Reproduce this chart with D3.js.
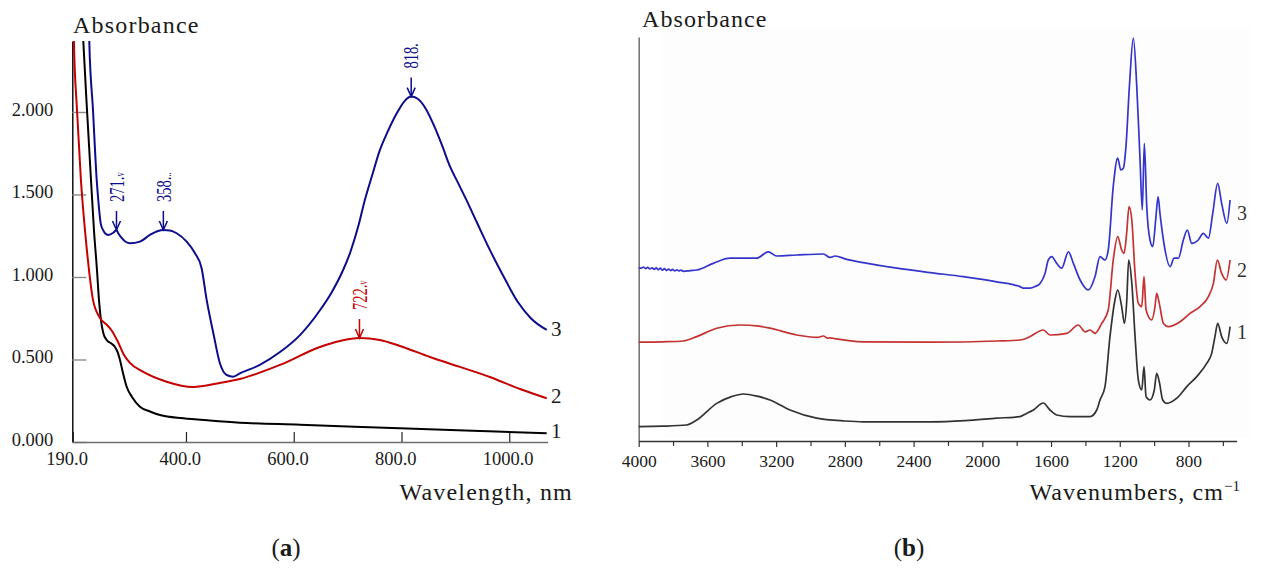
<!DOCTYPE html>
<html>
<head>
<meta charset="utf-8">
<script src="https://cdn.jsdelivr.net/npm/d3@7"></script>
<style>
  html, body { margin: 0; padding: 0; background: #fff; }
  svg { display: block; }
  text { font-family: "Liberation Serif", "Times New Roman", serif; fill: #1a1a1a; }
</style>
</head>
<body>
<svg id="fig" width="1264" height="574"></svg>
<script>
// ---------------- Panel (a): UV-Vis spectra, [wavelength nm, absorbance] ----------------
const uvSpectrum1 = [
  [206, 2.68], [209.4, 2.43], [216.3, 2.012], [223.7, 1.588], [229.2, 1.285], [234.8, 1.042],
  [238.5, 0.861], [242.2, 0.739], [246.5, 0.661], [252.8, 0.618], [262.7, 0.594], [268.2, 0.576],
  [273.8, 0.539], [277.5, 0.497], [283.1, 0.418], [289.9, 0.335], [299.8, 0.273], [314.6, 0.214],
  [333.2, 0.185], [351.7, 0.164], [395, 0.144], [444.5, 0.130], [500, 0.117], [611.6, 0.105],
  [797, 0.083], [945.7, 0.067], [1069.5, 0.053]
];
const uvSpectrum2 = [
  [191, 2.68], [192, 2.43], [197.7, 2.012], [205, 1.588], [212.5, 1.285], [220, 1.042],
  [227.4, 0.861], [240.4, 0.752], [253.4, 0.709], [262.7, 0.673], [273.8, 0.606], [285, 0.527],
  [296, 0.479], [320, 0.426], [364, 0.365], [413, 0.333], [463, 0.358], [500, 0.382],
  [574.5, 0.467], [648.7, 0.576], [685.8, 0.612], [722, 0.630], [760, 0.618], [797, 0.582],
  [853, 0.515], [908.5, 0.455], [964, 0.394], [1020, 0.321], [1069.5, 0.265]
];
const uvSpectrum3 = [
  [219, 2.68], [220.5, 2.43], [227.4, 2.012], [234.3, 1.588], [237.2, 1.467], [241.7, 1.325],
  [246, 1.285], [249.7, 1.265], [255.8, 1.255], [265, 1.268], [271, 1.285], [274, 1.267],
  [281, 1.236], [288.6, 1.212], [296, 1.204], [314.6, 1.214], [333, 1.255], [348, 1.279],
  [358, 1.285], [370, 1.282], [382.7, 1.265], [401.3, 1.214], [416.7, 1.144], [429, 1.053],
  [438.4, 0.861], [450.7, 0.661], [463, 0.477], [475.5, 0.406], [487.8, 0.396], [500, 0.416],
  [537, 0.467], [574.5, 0.545], [611.6, 0.648], [649, 0.80], [670, 0.905], [690, 1.03],
  [705, 1.15], [720, 1.31], [732, 1.467], [745, 1.61], [760, 1.77], [775, 1.885],
  [791, 1.99], [805, 2.063], [818, 2.093], [830, 2.080], [845, 2.02], [860, 1.92],
  [875, 1.80], [890, 1.67], [905, 1.57], [920, 1.47], [940, 1.33], [964, 1.164],
  [990, 1.0], [1016, 0.848], [1040, 0.75], [1069.5, 0.679]
];
const uvSeriesNames = ["1", "2", "3"];
const uvPeaks = [
  { series: 3, nm: 271, A: 1.285, label: "271.", tail: "v" },
  { series: 3, nm: 358, A: 1.285, label: "358.", tail: ".." },
  { series: 3, nm: 818, A: 2.093, label: "818.", tail: "" },
  { series: 2, nm: 722, A: 0.630, label: "722.", tail: "v" }
];
const uvXTicks = [190, 400, 600, 800, 1000];
const uvYTicks = [0, 0.5, 1.0, 1.5, 2.0];

// ---------------- Panel (b): FTIR spectra, [wavenumber cm-1, absorbance (offset, a.u.)] ----------------
const irSpectrum1 = [
  [4000, 0.036], [3860, 0.037], [3721, 0.040], [3662, 0.0525], [3546, 0.094], [3460, 0.111],
  [3391, 0.1175], [3310, 0.112], [3236, 0.1025], [3119, 0.0775], [2964, 0.057], [2800, 0.050],
  [2693, 0.048], [2304, 0.048], [2100, 0.051], [1916, 0.057], [1781, 0.061], [1742, 0.069],
  [1703, 0.0775], [1645, 0.095], [1606, 0.0775], [1567, 0.065], [1490, 0.061], [1373, 0.061],
  [1334, 0.0775], [1315, 0.1025], [1286, 0.136], [1257, 0.261], [1228, 0.3525], [1212, 0.3775],
  [1189, 0.336], [1173, 0.294], [1160, 0.345], [1148, 0.4525], [1130, 0.395], [1111, 0.261],
  [1092, 0.1525], [1072, 0.1275], [1059, 0.186], [1047, 0.111], [1024, 0.1025], [999, 0.1275],
  [985, 0.169], [970, 0.148], [950, 0.1025], [927, 0.094], [868, 0.107], [810, 0.136],
  [752, 0.161], [694, 0.194], [665, 0.219], [646, 0.261], [630, 0.294], [607, 0.261],
  [577, 0.244], [558, 0.286]
];
const irSpectrum2 = [
  [4000, 0.247], [3860, 0.248], [3740, 0.25], [3662, 0.261], [3546, 0.282], [3410, 0.29],
  [3300, 0.287], [3236, 0.282], [3080, 0.265], [2960, 0.259], [2925, 0.2625], [2900, 0.257],
  [2886, 0.258], [2860, 0.256], [2693, 0.248], [2304, 0.247], [1916, 0.25], [1781, 0.2525],
  [1742, 0.257], [1722, 0.261], [1645, 0.2775], [1606, 0.265], [1509, 0.269], [1441, 0.29],
  [1402, 0.273], [1373, 0.2775], [1344, 0.269], [1305, 0.294], [1267, 0.3275], [1238, 0.4525],
  [1212, 0.511], [1189, 0.4775], [1175, 0.469], [1160, 0.519], [1146, 0.586], [1130, 0.5525],
  [1111, 0.419], [1092, 0.344], [1072, 0.336], [1059, 0.411], [1047, 0.3275], [1014, 0.3025],
  [995, 0.336], [985, 0.369], [970, 0.344], [946, 0.294], [917, 0.286], [849, 0.298],
  [791, 0.319], [733, 0.336], [684, 0.361], [655, 0.394], [632, 0.4525], [607, 0.419],
  [581, 0.4025], [558, 0.4525]
];
const irSpectrum3 = [
  [4000, 0.434], [3985, 0.432], [3972, 0.435], [3960, 0.431], [3948, 0.434], [3935, 0.430],
  [3922, 0.433], [3910, 0.429], [3898, 0.433], [3886, 0.428], [3874, 0.432], [3862, 0.427],
  [3850, 0.431], [3838, 0.426], [3826, 0.430], [3814, 0.426], [3802, 0.429], [3790, 0.425],
  [3778, 0.428], [3766, 0.425], [3754, 0.427], [3740, 0.424], [3700, 0.426], [3662, 0.4275],
  [3566, 0.444], [3469, 0.457], [3313, 0.457],
  [3246, 0.473], [3197, 0.4625], [3080, 0.465], [2925, 0.4675], [2886, 0.459], [2857, 0.4625],
  [2789, 0.454], [2693, 0.446], [2498, 0.432], [2304, 0.421], [2111, 0.411], [1916, 0.398],
  [1781, 0.386], [1761, 0.382], [1722, 0.382], [1693, 0.386], [1664, 0.394], [1635, 0.419],
  [1616, 0.4525], [1596, 0.461], [1567, 0.444], [1538, 0.432], [1499, 0.473], [1470, 0.444],
  [1431, 0.4025], [1383, 0.3775], [1344, 0.411], [1315, 0.461], [1286, 0.4525], [1267, 0.4775],
  [1238, 0.636], [1212, 0.707], [1194, 0.6775], [1179, 0.682], [1164, 0.736], [1144, 0.886],
  [1121, 1.007], [1101, 0.886], [1082, 0.7025], [1069, 0.5775], [1057, 0.744], [1043, 0.586],
  [1024, 0.5025], [1008, 0.486], [991, 0.5525], [977, 0.611], [966, 0.569], [946, 0.5025],
  [907, 0.436], [884, 0.457], [859, 0.457], [830, 0.5025], [807, 0.5275], [781, 0.494],
  [743, 0.5025], [714, 0.519], [684, 0.507], [659, 0.569], [630, 0.644], [607, 0.594],
  [577, 0.544], [558, 0.6025]
];
const irSeriesNames = ["1", "2", "3"];
const irMajorTicks = [4000, 3600, 3200, 2800, 2400, 2000, 1600, 1200, 800];
const irMinorTicks = [3800, 3400, 3000, 2600, 2200, 1800, 1400, 1000, 600];

// ---------------- drawing ----------------
const svg = d3.select("#fig");
const defs = svg.append("defs");
const serif = "'Liberation Serif', 'Times New Roman', serif";

// ===== panel (a) =====
const uvColors = ["#000000", "#c40000", "#0c0c8c"];
const xUV = d3.scaleLinear().domain([189, 1071]).range([72.3, 547.5]);
const yUV = d3.scaleLinear().domain([0, 2.43]).range([442, 41]);

defs.append("clipPath").attr("id", "clipA")
  .append("rect").attr("x", xUV(189)).attr("y", yUV(2.43))
  .attr("width", xUV(1071) - xUV(189) + 2).attr("height", yUV(0) - yUV(2.43));

const gA = svg.append("g");

// y axis with inward gray ticks
const gyA = gA.append("g").attr("transform", `translate(${xUV(189)},0)`)
  .call(d3.axisLeft(yUV).tickValues(uvYTicks).tickSizeInner(-14).tickSizeOuter(0)
    .tickPadding(19).tickFormat(d3.format(".3f")));
gyA.attr("font-family", serif).attr("font-size", 18.5);
gyA.select(".domain").attr("stroke", "#000").attr("stroke-width", 1.4);
gyA.selectAll(".tick line").attr("stroke", "#8a8a8a").attr("stroke-width", 1.4);
gyA.selectAll(".tick text").attr("fill", "#1a1a1a").attr("dy", "0.18em");

// x axis with inward ticks, labels set to the left of each tick
const gxA = gA.append("g").attr("transform", `translate(0,${yUV(0)})`)
  .call(d3.axisBottom(xUV).tickValues(uvXTicks).tickSizeInner(-10).tickSizeOuter(0)
    .tickFormat(d3.format(".1f")));
gxA.attr("font-family", serif).attr("font-size", 18.5);
gxA.select(".domain").attr("stroke", "#6e6e6e").attr("stroke-width", 1.4);
gxA.selectAll(".tick line").attr("stroke", "#222").attr("stroke-width", 1.2);
gxA.selectAll(".tick text").attr("fill", "#1a1a1a").attr("text-anchor", "start")
  .attr("x", -27).attr("y", 23).attr("dy", 0);

// spectra
const lineUV = d3.line().x(d => xUV(d[0])).y(d => yUV(d[1])).curve(d3.curveMonotoneX);
const uvAll = [uvSpectrum1, uvSpectrum2, uvSpectrum3];
gA.append("g").attr("clip-path", "url(#clipA)")
  .selectAll("path").data(uvAll).join("path")
  .attr("d", lineUV).attr("fill", "none")
  .attr("stroke", (d, i) => uvColors[i]).attr("stroke-width", 2)
  .attr("stroke-linejoin", "round");

// series numbers at right end
const uvLabelDy = [-3, -3, -1];
gA.selectAll("text.series").data(uvAll).join("text").attr("class", "series")
  .attr("x", 551).attr("y", (d, i) => yUV(d[d.length - 1][1]) + uvLabelDy[i])
  .attr("dy", "0.35em").attr("font-size", 21).text((d, i) => uvSeriesNames[i]);

// peak markers: arrow + rotated wavelength
uvPeaks.forEach(p => {
  const px = xUV(p.nm), py = yUV(p.A), c = uvColors[p.series - 1];
  gA.append("line").attr("x1", px).attr("x2", px).attr("y1", py - 19).attr("y2", py - 1)
    .attr("stroke", c).attr("stroke-width", 1.5);
  gA.append("path").attr("d", `M${px - 4},${py - 9}L${px},${py}L${px + 4},${py - 9}`)
    .attr("fill", "none").attr("stroke", c).attr("stroke-width", 1.5);
  const t = gA.append("text")
    .attr("transform", `translate(${px},${py - 28}) rotate(-90) scale(1,1.5)`)
    .attr("dy", "0.33em").attr("font-size", 14.5).style("fill", c).text(p.label);
  if (p.tail) t.append("tspan").attr("font-size", 8.5).style("fill", c).text(p.tail);
});

// axis titles
gA.append("text").attr("x", 73).attr("y", 33).attr("font-size", 24)
  .attr("letter-spacing", 1.2).text("Absorbance");
gA.append("text").attr("x", 573).attr("y", 500).attr("text-anchor", "end")
  .attr("font-size", 24).attr("letter-spacing", 1.2).text("Wavelength, nm");

// ===== panel (b) =====
const irColors = ["#333333", "#c43232", "#3434cc"];
const xIR = d3.scaleLinear().domain([4000, 520]).range([638.7, 1236.6]);
const yIR = d3.scaleLinear().domain([0, 1.01]).range([441, 37]);

const gB = svg.append("g");
// faint backdrop of the plotted region
gB.append("rect").attr("x", 663).attr("y", 28).attr("width", 587).attr("height", 410)
  .attr("fill", "#fdfdfd");

defs.append("filter").attr("id", "soft").attr("x", "-5%").attr("y", "-5%")
  .attr("width", "110%").attr("height", "110%")
  .append("feGaussianBlur").attr("stdDeviation", 0.45);

// y axis: bare line
const gyB = gB.append("g").attr("transform", `translate(${xIR(4000)},0)`)
  .call(d3.axisLeft(yIR).tickValues([]).tickSizeOuter(0));
gyB.select(".domain").attr("stroke", "#777").attr("stroke-width", 1.6);

// x axis: major + minor ticks pointing down
const gxB = gB.append("g").attr("transform", `translate(0,${yIR(0)})`)
  .call(d3.axisBottom(xIR).tickValues(irMajorTicks).tickSizeInner(6).tickSizeOuter(0)
    .tickPadding(4).tickFormat(d3.format("d")));
gxB.attr("font-family", serif).attr("font-size", 17.5);
gxB.select(".domain").attr("stroke", "#333").attr("stroke-width", 1.3);
gxB.selectAll(".tick line").attr("stroke", "#333").attr("stroke-width", 1.2);
gxB.selectAll(".tick text").attr("fill", "#2a2a2a").attr("y", 26).attr("dy", 0);

const gxB2 = gB.append("g").attr("transform", `translate(0,${yIR(0)})`)
  .call(d3.axisBottom(xIR).tickValues(irMinorTicks).tickSizeInner(5).tickSizeOuter(0)
    .tickFormat(""));
gxB2.select(".domain").remove();
gxB2.selectAll(".tick line").attr("stroke", "#333").attr("stroke-width", 1.2);

// spectra
const lineIR = d3.line().x(d => xIR(d[0])).y(d => yIR(d[1])).curve(d3.curveMonotoneX);
const irAll = [irSpectrum1, irSpectrum2, irSpectrum3];
gB.append("g").attr("filter", "url(#soft)")
  .selectAll("path").data(irAll).join("path")
  .attr("d", lineIR).attr("fill", "none")
  .attr("stroke", (d, i) => irColors[i]).attr("stroke-width", 1.7)
  .attr("stroke-linejoin", "round");

const irLabelDy = [5, 10, 13];
gB.selectAll("text.series").data(irAll).join("text").attr("class", "series")
  .attr("x", 1237).attr("y", (d, i) => yIR(d[d.length - 1][1]) + irLabelDy[i])
  .attr("dy", "0.35em").attr("font-size", 20).style("fill", "#333").text((d, i) => irSeriesNames[i]);

// axis titles
gB.append("text").attr("x", 642).attr("y", 27).attr("font-size", 24)
  .attr("letter-spacing", 1.1).text("Absorbance");
const wn = gB.append("text").attr("x", 1240).attr("y", 500).attr("text-anchor", "end")
  .attr("font-size", 24).attr("letter-spacing", 1.1);
wn.append("tspan").text("Wavenumbers, cm");
wn.append("tspan").attr("dy", -9).attr("font-size", 15).attr("letter-spacing", 0).text("\u22121");

// ===== panel captions =====
const caps = [{ x: 286, l: "a" }, { x: 909, l: "b" }];
caps.forEach(c => {
  const t = svg.append("text").attr("x", c.x).attr("y", 556).attr("text-anchor", "middle")
    .attr("font-size", 25);
  t.append("tspan").text("(");
  t.append("tspan").attr("font-weight", "bold").text(c.l);
  t.append("tspan").text(")");
});
</script>
</body>
</html>
